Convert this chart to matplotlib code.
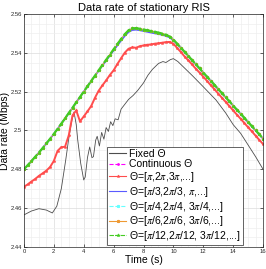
import matplotlib
matplotlib.use("Agg")
import matplotlib.pyplot as plt
from matplotlib.ticker import MultipleLocator

plt.rcParams["font.family"] = ["Liberation Sans", "DejaVu Sans"]
plt.rcParams["mathtext.fontset"] = "stix"

# time grid shared by the optimised curves (s)
time = [i * 0.25 for i in range(65)]

# continuous / pi/4 / pi/6 / pi/12 curves (all overlap)
rate_fine = [2.4800, 2.4821, 2.4842, 2.4864, 2.4886, 2.4909, 2.4933, 2.4957,
             2.4982, 2.5008, 2.5035, 2.5062, 2.5090, 2.5117, 2.5145, 2.5172,
             2.5200, 2.5227, 2.5255, 2.5282, 2.5310, 2.5337, 2.5364, 2.5391,
             2.5418, 2.5445, 2.5471, 2.5496, 2.5516, 2.5526, 2.5527, 2.5524,
             2.5520, 2.5516, 2.5512, 2.5508, 2.5504, 2.5499, 2.5493, 2.5484,
             2.5468, 2.5447, 2.5426, 2.5405, 2.5384, 2.5362, 2.5341, 2.5320,
             2.5298, 2.5277, 2.5256, 2.5235, 2.5213, 2.5192, 2.5171, 2.5150,
             2.5128, 2.5107, 2.5086, 2.5065, 2.5043, 2.5022, 2.5001, 2.4980,
             2.4958]

# pi/3 step
rate_pi3 = [2.4800, 2.4821, 2.4842, 2.4864, 2.4886, 2.4909, 2.4933, 2.4957,
            2.4982, 2.5008, 2.5035, 2.5062, 2.5090, 2.5117, 2.5145, 2.5172,
            2.5200, 2.5227, 2.5255, 2.5281, 2.5308, 2.5334, 2.5360, 2.5386,
            2.5412, 2.5438, 2.5463, 2.5487, 2.5507, 2.5517, 2.5519, 2.5516,
            2.5512, 2.5508, 2.5504, 2.5500, 2.5497, 2.5492, 2.5487, 2.5479,
            2.5465, 2.5446, 2.5425, 2.5404, 2.5383, 2.5361, 2.5340, 2.5319,
            2.5297, 2.5276, 2.5255, 2.5234, 2.5212, 2.5191, 2.5170, 2.5149,
            2.5127, 2.5106, 2.5085, 2.5064, 2.5042, 2.5021, 2.5000, 2.4979,
            2.4957]

# pi step
rate_pi = [2.4710, 2.4722, 2.4737, 2.4750, 2.4766, 2.4779, 2.4793, 2.4812,
           2.4843, 2.4895, 2.4914, 2.4916, 2.4975, 2.5078, 2.5103, 2.5047,
           2.5072, 2.5098, 2.5126, 2.5168, 2.5205, 2.5232, 2.5258, 2.5286,
           2.5310, 2.5342, 2.5372, 2.5401, 2.5421, 2.5428, 2.5426, 2.5434,
           2.5438, 2.5441, 2.5443, 2.5447, 2.5449, 2.5452, 2.5455, 2.5456,
           2.5447, 2.5425, 2.5404, 2.5381, 2.5361, 2.5340, 2.5318, 2.5298,
           2.5277, 2.5255, 2.5233, 2.5212, 2.5190, 2.5168, 2.5147, 2.5125,
           2.5103, 2.5081, 2.5060, 2.5038, 2.5016, 2.4995, 2.4973, 2.4951,
           2.4930]

# fixed Theta
time_fixed = [0, 0.5, 1.0, 1.5, 1.9, 2.2, 2.5, 2.8, 3.0, 3.2, 3.35, 3.5, 3.6,
              3.8, 4.0, 4.1, 4.25, 4.4, 4.55, 4.65, 4.8, 4.9, 5.05, 5.2, 5.35,
              5.5, 5.65, 5.8, 5.95, 6.1, 6.3, 6.5, 6.8, 7.0, 7.3, 7.6, 8.0,
              8.3, 8.6, 9.0, 9.3, 9.5, 9.8, 10.0, 10.3, 10.7, 11.3, 12.0,
              12.85, 13.5, 14.0, 14.5, 15.0, 15.5, 16.0]
rate_fixed = [2.4565, 2.4585, 2.4597, 2.4590, 2.4575, 2.4610, 2.4700, 2.4850,
              2.4960, 2.5050, 2.5095, 2.5030, 2.4950, 2.4830, 2.4745, 2.4760,
              2.4860, 2.4915, 2.4860, 2.4865, 2.4950, 2.4970, 2.4920, 2.4990,
              2.4955, 2.5015, 2.4995, 2.5045, 2.5025, 2.5060, 2.5055, 2.5110,
              2.5140, 2.5160, 2.5180, 2.5205, 2.5245, 2.5285, 2.5315, 2.5345,
              2.5355, 2.5350, 2.5365, 2.5370, 2.5355, 2.5325, 2.5280, 2.5225,
              2.5157, 2.5090, 2.5030, 2.4985, 2.4925, 2.4865, 2.4800]

labels = ["Fixed \u0398",
          "Continuous \u0398",
          "\u0398=[$\\pi$,2$\\pi$,3$\\pi$,...]",
          "\u0398=[$\\pi$/3,2$\\pi$/3, $\\pi$,...]",
          "\u0398=[$\\pi$/4,2$\\pi$/4, 3$\\pi$/4,...]",
          "\u0398=[$\\pi$/6,2$\\pi$/6, 3$\\pi$/6,...]",
          "\u0398=[$\\pi$/12,2$\\pi$/12, 3$\\pi$/12,...]"]

fig = plt.figure(figsize=(2.66, 2.69), dpi=100)
ax = fig.add_axes([0.090, 0.082, 0.899, 0.866])

ax.plot(time_fixed, rate_fixed, color="#4d4d4d", lw=0.6, label=labels[0])
ax.plot(time, rate_fine, color="#ff00ff", ls="--", lw=0.6, marker=".", ms=2, label=labels[1])
ax.plot(time, rate_pi, color="#ff4d4d", lw=1.4, marker="*", ms=2.2, mew=0.4, label=labels[2])
ax.plot(time, rate_pi3, color="#5a5aff", lw=1.2, label=labels[3])
ax.plot(time, rate_fine, color="#66ffff", ls="--", lw=0.6, marker="*", ms=2, label=labels[4])
ax.plot(time, rate_fine, color="#ee9933", lw=0.6, marker="*", ms=2, label=labels[5])
ax.plot(time, rate_fine, color="#44cc22", ls=(0, (4, 1)), lw=1.6, marker="*", ms=2.4, mew=0.4, label=labels[6])

ax.set_xlim(0, 16)
ax.set_ylim(2.44, 2.56)
ax.xaxis.set_major_locator(MultipleLocator(2))
ax.xaxis.set_minor_locator(MultipleLocator(0.5))
ax.yaxis.set_major_locator(MultipleLocator(0.02))
ax.yaxis.set_minor_locator(MultipleLocator(0.005))
ax.set_yticks([2.44, 2.46, 2.48, 2.5, 2.52, 2.54, 2.56])
ax.set_yticklabels(["2.44", "2.46", "2.48", "2.5", "2.52", "2.54", "2.56"])
ax.grid(True, which="major", color="#dcdcdc", lw=0.5)
ax.grid(True, which="minor", color="#eeeeee", lw=0.5)
ax.set_axisbelow(True)
ax.tick_params(which="both", direction="in", top=True, right=True,
               labelsize=4.2, colors="#262626", length=2, width=0.5, pad=1.5)
ax.tick_params(which="minor", length=0)
for s in ax.spines.values():
    s.set_color("#262626")
    s.set_linewidth(0.5)

ax.set_title("Data rate of stationary RIS", fontsize=8, pad=2)
ax.set_xlabel("Time (s)", fontsize=7.5, labelpad=1)
ax.set_ylabel("Data rate (Mbps)", fontsize=7.5, labelpad=0.5)

leg = ax.legend(loc="lower right", bbox_to_anchor=(0.918, 0.008), fontsize=7.5,
                fancybox=False, framealpha=1, edgecolor="#262626",
                handlelength=1.7, handletextpad=0.3, labelspacing=0.07,
                borderpad=0.2, borderaxespad=0)
leg.get_frame().set_linewidth(0.5)
# thin handles like the original legend
for ln in leg.get_lines():
    ln.set_linewidth(0.8)

fig.savefig("out.png", dpi=100)
